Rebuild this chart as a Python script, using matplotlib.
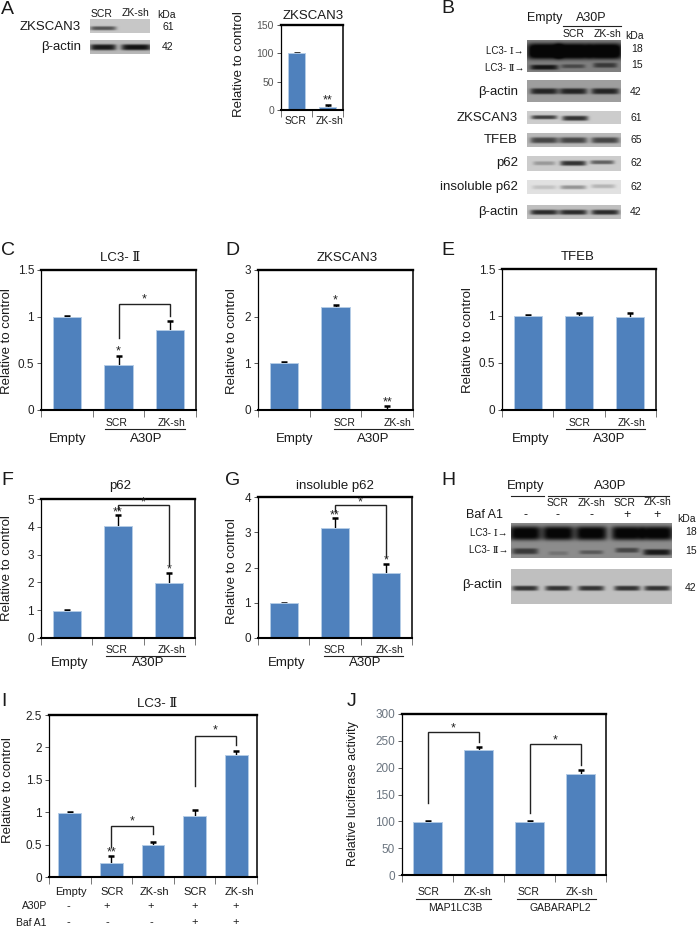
import numpy as np
import matplotlib
matplotlib.use('Agg')
import matplotlib.pyplot as plt

plt.rcParams['font.family'] = ['Liberation Sans', 'DejaVu Serif', 'DejaVu Sans']

W, H = 698, 927
BAR = '#4F81BD'
BAR_EDGE = '#B4CCE6'
TICK_GREY = '#555555'

# BAR DATA
a_vals, a_err = [100, 5], [1, 4]
c_vals, c_err = [1.0, 0.48, 0.86], [0.01, 0.10, 0.09]
d_vals, d_err = [1.0, 2.21, 0.03], [0.02, 0.03, 0.05]
e_vals, e_err = [1.0, 1.0, 0.99], [0.01, 0.03, 0.04]
f_vals, f_err = [0.98, 4.03, 1.97], [0.03, 0.40, 0.36]
g_vals, g_err = [0.98, 3.12, 1.85], [0.02, 0.28, 0.25]
i_vals, i_err = [0.99, 0.22, 0.49, 0.94, 1.88], [0.01, 0.10, 0.05, 0.09, 0.07]
j_vals, j_err = [99, 232, 99, 189], [1, 6, 1, 6]

a_ticks = [0, 50, 100, 150]
lc3_ticks = [0, 0.5, 1, 1.5]
d_ticks = [0, 1, 2, 3]
f_ticks = [0, 1, 2, 3, 4, 5]
g_ticks = [0, 1, 2, 3, 4]
i_ticks = [0, 0.5, 1, 1.5, 2, 2.5]
j_ticks = [0, 50, 100, 150, 200, 250, 300]

# BLOT BANDS: centre x, centre y, half width, half height, darkness (in pixels)
lanes_b = [544, 573, 605]
lanes_h = [525, 558, 591, 627, 657]
blot_list = [
    ((90, 19, 150, 33), 0.78, [(103, 28, 13, 2, 0.45)]),
    ((90, 40, 150, 54), 0.72, [(103, 47, 13, 3, 0.62), (136, 47, 15, 3, 0.65)]),
    ((527, 40, 621, 72), 0.50, [(x, 51, 17, 8, 0.6) for x in lanes_b]
     + [(544, 67, 14, 2.5, 0.42), (573, 66, 12, 2, 0.22), (605, 65, 12, 2.5, 0.28)]),
    ((527, 80, 621, 102), 0.62, [(x, 91, 14, 3, 0.48) for x in lanes_b]),
    ((527, 111, 621, 124), 0.80, [(544, 117, 13, 2, 0.55), (575, 118, 13, 2.5, 0.6)]),
    ((527, 133, 621, 147), 0.72, [(x, 140, 14, 3, 0.45) for x in lanes_b]),
    ((527, 156, 621, 171), 0.80, [(544, 163, 11, 2, 0.2), (573, 163, 13, 2.5, 0.6), (602, 162, 12, 2, 0.42)]),
    ((527, 180, 621, 194), 0.88, [(544, 187, 12, 2, 0.12), (573, 187, 13, 2, 0.3), (603, 186, 12, 2, 0.17)]),
    ((527, 205, 621, 219), 0.75, [(x, 212, 14, 2.5, 0.58) for x in lanes_b]),
    ((511, 523, 672, 558), 0.55, [(x, 533, 16, 7, 0.55) for x in lanes_h]
     + [(525, 551, 13, 3, 0.33), (558, 553, 10, 2, 0.1), (591, 552, 12, 2, 0.2),
        (627, 550, 12, 2.5, 0.28), (657, 552, 14, 3, 0.45)]),
    ((511, 569, 672, 604), 0.75, [(x, 588, 13, 2.5, 0.55) for x in lanes_h]),
]

fig = plt.figure(figsize=(W / 100, H / 100), dpi=100)


def make_axes(x0, y0, x1, y1):
    return fig.add_axes([x0 / W, 1 - y1 / H, (x1 - x0) / W, (y1 - y0) / H])


def bar_panel(box, vals, err, ticks, brackets=(), stars=(), ticksize=8.5, tick_color='#222222'):
    ax = make_axes(*box)
    xs = np.arange(len(vals))
    tops = np.array(vals) + np.array(err)
    ax.vlines(xs, vals, tops, color='black', lw=1.0, zorder=1)
    ax.plot(xs, tops, linestyle='none', marker='_', ms=5, mew=1.8, color='black', zorder=1)
    ax.bar(xs, vals, width=0.55, color=BAR, edgecolor=BAR_EDGE, linewidth=0.7, zorder=2)
    ax.set_xlim(-0.5, len(vals) - 0.5)
    ax.set_ylim(ticks[0], ticks[-1])
    ax.set_xticks(np.arange(len(vals) + 1) - 0.5)
    ax.set_xticklabels([])
    ax.set_yticks(ticks)
    ax.set_yticklabels([str(t) for t in ticks], fontsize=ticksize, color=tick_color)
    ax.tick_params(axis='x', length=5, width=0.7, color='#777777')
    ax.tick_params(axis='y', length=3, width=0.7, color='#555555', pad=2)
    ax.spines['top'].set_linewidth(1.7)
    ax.spines['bottom'].set_linewidth(1.5)
    ax.spines['left'].set_linewidth(0.9)
    ax.spines['right'].set_linewidth(1.1)
    for x1, y1, x2, top, y2 in brackets:
        ax.plot([x1, x1, x2, x2], [y1, top, top, y2], color='#222222', lw=1.0, zorder=3,
                solid_joinstyle='miter')
    for x, y, s in stars:
        ax.text(x, y, s, fontsize=9, ha='center', va='center', color='#222222', zorder=4)
    return ax


bar_panel((281, 25, 343, 110), a_vals, a_err, a_ticks, stars=[(1, 16, '**')], ticksize=7.5, tick_color=TICK_GREY)
bar_panel((41, 270, 196, 410), c_vals, c_err, lc3_ticks,
          brackets=[(1, 0.77, 2, 1.14, 1.01)], stars=[(1, 0.63, '*'), (1.5, 1.18, '*')])
bar_panel((258, 270, 413, 410), d_vals, d_err, d_ticks,
          stars=[(1, 2.35, '*'), (2, 0.16, '**')])
bar_panel((502, 269, 656, 410), e_vals, e_err, lc3_ticks)
bar_panel((41, 499, 195, 638), f_vals, f_err, f_ticks,
          brackets=[(1, 4.65, 2, 4.78, 2.62)],
          stars=[(1, 4.52, '**'), (2, 2.48, '*'), (1.5, 4.88, '*')])
bar_panel((258, 497, 412, 638), g_vals, g_err, g_ticks,
          brackets=[(1, 3.6, 2, 3.77, 2.3)],
          stars=[(1, 3.49, '**'), (2, 2.21, '*'), (1.5, 3.85, '*')])
bar_panel((49, 715, 257, 877), i_vals, i_err, i_ticks,
          brackets=[(1, 0.46, 2, 0.79, 0.66), (3, 1.40, 4, 2.18, 2.04)],
          stars=[(1, 0.385, '**'), (1.5, 0.86, '*'), (3.5, 2.26, '*')])
bar_panel((402, 714, 606, 875), j_vals, j_err, j_ticks,
          brackets=[(0, 134, 1, 266, 248), (2, 116, 3, 244, 205)],
          stars=[(0.5, 273, '*'), (2.5, 251, '*')], tick_color='#6B7580')

# overlay in pixel coordinates for blots, labels and group lines
ov = fig.add_axes([0, 0, 1, 1], zorder=5)
ov.patch.set_visible(False)
ov.axis('off')

for (x0, y0, x1, y1), bg, bands in blot_list:
    xx, yy = np.meshgrid(np.arange(x0, x1, 0.5), np.arange(y0, y1, 0.5))
    img = np.full(xx.shape, bg, dtype=float)
    for cx, cy, hw, hh, dark in bands:
        img -= dark * np.exp(-((xx - cx) / hw) ** 6 - ((yy - cy) / hh) ** 4)
    ov.imshow(np.clip(img, 0.03, 1), extent=(x0, x1, y1, y0), cmap='gray', vmin=0, vmax=1,
              aspect='auto', interpolation='bilinear')
ov.set_xlim(0, W)
ov.set_ylim(H, 0)


def txt(x, y, s, size=7.5, ha='center', rot=0, color='#1a1a1a'):
    ov.text(x, y, s, fontsize=size, ha=ha, va='center', rotation=rot, color=color)


# panel letters
for x, y, s in [(1, 9, 'A'), (441, 8, 'B'), (1, 250, 'C'), (225, 250, 'D'), (441, 250, 'E'),
                (1, 480, 'F'), (225, 480, 'G'), (441, 480, 'H'), (1, 701, 'I'), (347, 702, 'J')]:
    txt(x, y, s, size=14, ha='left')

# titles
for x, y, s in [(313, 16, 'ZKSCAN3'), (120, 258, 'LC3- Ⅱ'), (347, 258, 'ZKSCAN3'), (578, 257, 'TFEB'),
                (120, 486, 'p62'), (335, 486, 'insoluble p62'), (157, 704, 'LC3- Ⅱ')]:
    txt(x, y, s, size=9.5)

# y labels
for x, y in [(239, 64), (7, 341), (232, 341), (468, 340), (7, 568), (232, 571), (8, 790)]:
    txt(x, y, 'Relative to control', size=9.5, rot=90)
txt(353, 794, 'Relative luciferase activity', size=9, rot=90)

# panel A labels
txt(102, 14, 'SCR')
txt(135, 13, 'ZK-sh')
txt(167, 15, 'kDa')
txt(81, 27, 'ZKSCAN3', size=9.5, ha='right')
txt(81, 47, 'β-actin', size=9.5, ha='right')
txt(168, 27, '61')
txt(168, 47, '42')
txt(296, 121, 'SCR')
txt(329, 121, 'ZK-sh')

# panel B labels
txt(545, 18, 'Empty', size=9)
txt(591, 18, 'A30P', size=9)
txt(574, 34, 'SCR')
txt(607, 34, 'ZK-sh')
txt(634, 36, 'kDa')
ov.plot([563, 621], [26, 26], color='#222222', lw=0.8)
txt(524, 51, 'LC3- Ⅰ→', size=7, ha='right')
txt(524, 68, 'LC3- Ⅱ→', size=7, ha='right')
txt(637, 49, '18')
txt(637, 65, '15')
for y, name, kda in [(92, 'β-actin', '42'), (118, 'ZKSCAN3', '61'), (140, 'TFEB', '65'),
                     (163, 'p62', '62'), (187, 'insoluble p62', '62'), (212, 'β-actin', '42')]:
    txt(518, y, name, size=9.5, ha='right')
    txt(636, y, kda)

# A30P group labels under C D E F G
for scr, zk, x0, x1, y, emp, a30 in [(117, 171, 105, 185, 423, 68, 146), (345, 397, 334, 413, 423, 295, 373),
                                     (580, 631, 566, 645, 423, 531, 609), (117, 171, 106, 185, 650, 70, 148),
                                     (335, 389, 324, 403, 650, 287, 365)]:
    txt(scr, y, 'SCR')
    txt(zk, y, 'ZK-sh')
    ov.plot([x0, x1], [y + 6, y + 6], color='#222222', lw=0.8)
    txt(emp, y + (16 if y == 423 else 13), 'Empty', size=9.5)
    txt(a30, y + (16 if y == 423 else 13), 'A30P', size=9.5)

# panel H labels
txt(526, 486, 'Empty', size=9.5)
txt(610, 486, 'A30P', size=9.5)
ov.plot([511, 544], [496, 496], color='#222222', lw=0.8)
ov.plot([548, 669], [496, 496], color='#222222', lw=0.8)
for x, y, s in [(558, 503, 'SCR'), (591, 503, 'ZK-sh'), (625, 503, 'SCR'), (657, 502, 'ZK-sh')]:
    txt(x, y, s)
txt(484, 515, 'Baf A1', size=9)
for x, s in zip(lanes_h, ['-', '-', '-', '+', '+']):
    txt(x, 515, s, size=9)
txt(687, 519, 'kDa')
txt(508, 533, 'LC3- Ⅰ→', size=7, ha='right')
txt(508, 550, 'LC3- Ⅱ→', size=7, ha='right')
txt(691, 532, '18')
txt(691, 551, '15')
txt(502, 585, 'β-actin', size=9.5, ha='right')
txt(691, 588, '42')

# panel I labels
for x, s in zip([71, 112, 154, 195, 239], ['Empty', 'SCR', 'ZK-sh', 'SCR', 'ZK-sh']):
    txt(x, 892, s, size=8)
txt(47, 906, 'A30P', ha='right')
txt(47, 923, 'Baf A1', ha='right')
for x, s1, s2 in zip([68, 107, 151, 195, 236], ['-', '+', '+', '+', '+'], ['-', '-', '-', '+', '+']):
    txt(x, 906, s1, size=8)
    txt(x, 922, s2, size=8)

# panel J labels
for x, s in zip([429, 478, 529, 580], ['SCR', 'ZK-sh', 'SCR', 'ZK-sh']):
    txt(x, 892, s)
ov.plot([416, 491], [899, 899], color='#222222', lw=0.8)
ov.plot([517, 596], [899, 899], color='#222222', lw=0.8)
txt(455, 908, 'MAP1LC3B')
txt(560, 908, 'GABARAPL2')

plt.savefig('out.png', dpi=100)
plt.close()
